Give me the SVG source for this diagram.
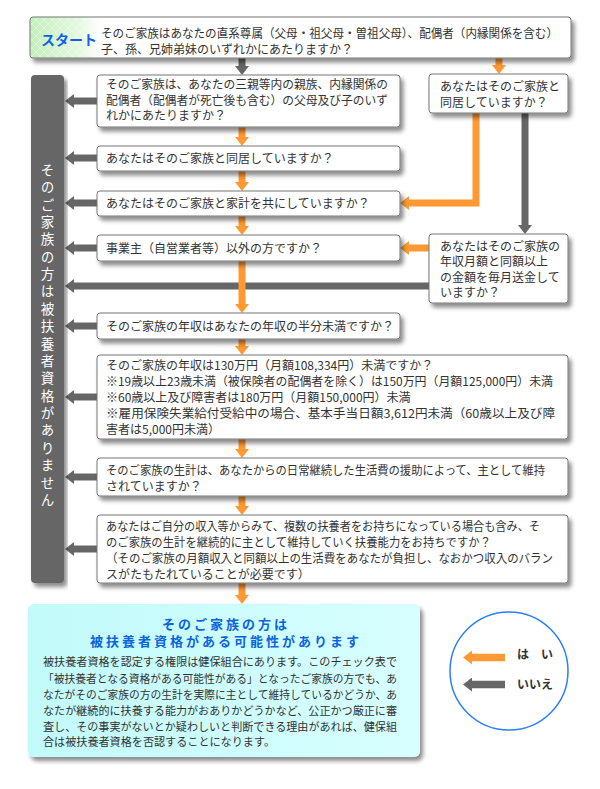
<svg xmlns="http://www.w3.org/2000/svg" width="600" height="789" viewBox="0 0 600 789">
<style>
text{font-family:"Noto Sans CJK JP","Noto Sans",sans-serif;fill:#333;font-size:12px}
.box{fill:#fff;stroke:#777;stroke-width:1}
.o{fill:none;stroke:#ff9933;stroke-width:7;marker-end:url(#ho)}
.g{fill:none;stroke:#666;stroke-width:7;marker-end:url(#hg)}
.vt{fill:#fff;font-size:13.5px;writing-mode:vertical-rl;letter-spacing:3.87px}
.ttl{fill:#0a64dc;font-weight:bold;font-size:13px;letter-spacing:3px;text-anchor:middle}
.bd{font-size:11.5px}
.lg{font-weight:bold;font-size:12px;fill:#333}
</style>
<defs>
<filter id="sh" x="-5%" y="-10%" width="115%" height="150%"><feDropShadow dx="3" dy="4" stdDeviation="2" flood-color="#000" flood-opacity="0.45"/></filter>
<marker id="ho" viewBox="0 0 9 14" markerWidth="9" markerHeight="14" refX="0" refY="7" orient="auto" markerUnits="userSpaceOnUse"><path d="M0,0 L9,7 L0,14 Z" fill="#ff9933"/></marker>
<marker id="hg" viewBox="0 0 9 14" markerWidth="9" markerHeight="14" refX="0" refY="7" orient="auto" markerUnits="userSpaceOnUse"><path d="M0,0 L9,7 L0,14 Z" fill="#666"/></marker>
<linearGradient id="gs" x1="0" y1="0" x2="1" y2="0"><stop offset="0" stop-color="#c4efbc"/><stop offset="0.09" stop-color="#e4f8e0"/><stop offset="0.13" stop-color="#fff"/><stop offset="1" stop-color="#fff"/></linearGradient>
<linearGradient id="gc" x1="0" y1="0" x2="1" y2="0"><stop offset="0" stop-color="#c2fafa"/><stop offset="1" stop-color="#d8ffff"/></linearGradient>
<pattern id="hatch" width="8" height="8" patternUnits="userSpaceOnUse"><path d="M0,0 L8,8 M8,0 L0,8" stroke="#fff" stroke-width="0.8" opacity="0.7"/></pattern>
</defs>

<g id="connectors">
<path class="g" d="M242,58 V66"/>
<path class="g" d="M97,101 H74"/>
<path class="g" d="M97,158 H74"/>
<path class="g" d="M97,203 H74"/>
<path class="g" d="M97,248 H74"/>
<path class="g" d="M429,286 H74"/>
<path class="g" d="M97,326 H74"/>
<path class="g" d="M97,397 H74"/>
<path class="g" d="M97,477 H74"/>
<path class="g" d="M97,549 H74"/>
<path class="g" d="M525,113 V225"/>
<path class="o" d="M242,127 V137"/>
<path class="o" d="M242,171 V182"/>
<path class="o" d="M242,216 V226"/>
<path class="o" d="M242,261 V304"/>
<path class="o" d="M242,339 V346"/>
<path class="o" d="M242,439 V449"/>
<path class="o" d="M242,496 V506"/>
<path class="o" d="M242,583 V595"/>
<path class="o" d="M499,58 V65"/>
<path class="o" d="M476,113 V203 H409"/>
<path class="o" d="M429,248 H409"/>
</g>

<g id="start">
<rect x="30" y="17" width="541" height="41" rx="3" fill="url(#gs)" stroke="#777" filter="url(#sh)"/>
<rect x="31" y="18" width="55" height="39" fill="url(#hatch)" opacity="0.6"/>
<text x="41" y="45" style="fill:#1060e8;font-weight:bold;font-size:14px">スタート</text>
<text x="101" y="38" textLength="457" lengthAdjust="spacingAndGlyphs">そのご家族はあなたの直系尊属（父母・祖父母・曽祖父母）、配偶者（内縁関係を含む）</text>
<text x="101" y="53.5">子、孫、兄姉弟妹のいずれかにあたりますか？</text>
</g>

<g id="no-bar">
<rect x="31" y="75" width="33" height="508" rx="4" fill="#666" filter="url(#sh)"/>
<text class="vt" x="47.5" y="163">そのご家族の方は被扶養者資格がありません</text>
</g>

<g id="q1">
<rect class="box" x="97" y="75" width="303" height="52" rx="3" filter="url(#sh)"/>
<text x="106" y="89" textLength="282" lengthAdjust="spacingAndGlyphs">そのご家族は、あなたの三親等内の親族、内縁関係の</text>
<text x="106" y="104.5" textLength="282" lengthAdjust="spacingAndGlyphs">配偶者（配偶者が死亡後も含む）の父母及び子のいず</text>
<text x="106" y="120">れかにあたりますか？</text>
</g>

<g id="r1">
<rect class="box" x="429" y="74" width="139" height="39" rx="3" filter="url(#sh)"/>
<text x="440" y="91">あなたはそのご家族と</text>
<text x="440" y="107">同居していますか？</text>
</g>

<g id="q2">
<rect class="box" x="97" y="146" width="303" height="25" rx="3" filter="url(#sh)"/>
<text x="106" y="162.5">あなたはそのご家族と同居していますか？</text>
</g>

<g id="q3">
<rect class="box" x="97" y="191" width="303" height="25" rx="3" filter="url(#sh)"/>
<text x="106" y="207.5">あなたはそのご家族と家計を共にしていますか？</text>
</g>

<g id="q4">
<rect class="box" x="97" y="235" width="303" height="26" rx="3" filter="url(#sh)"/>
<text x="106" y="252.5">事業主（自営業者等）以外の方ですか？</text>
</g>

<g id="r2">
<rect class="box" x="429" y="234" width="139" height="69" rx="3" filter="url(#sh)"/>
<text x="440" y="250.5">あなたはそのご家族の</text>
<text x="440" y="266">年収月額と同額以上</text>
<text x="440" y="281.5">の金額を毎月送金して</text>
<text x="440" y="297">いますか？</text>
</g>

<g id="q5">
<rect class="box" x="97" y="313" width="303" height="26" rx="3" filter="url(#sh)"/>
<text x="106" y="330.5">そのご家族の年収はあなたの年収の半分未満ですか？</text>
</g>

<g id="q6">
<rect class="box" x="97" y="355" width="471" height="84" rx="3" filter="url(#sh)"/>
<text x="106" y="370">そのご家族の年収は130万円（月額108,334円）未満ですか？</text>
<text x="106" y="386" textLength="447" lengthAdjust="spacingAndGlyphs">※19歳以上23歳未満（被保険者の配偶者を除く）は150万円（月額125,000円）未満</text>
<text x="106" y="402">※60歳以上及び障害者は180万円（月額150,000円）未満</text>
<text x="106" y="418" textLength="449" lengthAdjust="spacingAndGlyphs">※雇用保険失業給付受給中の場合、基本手当日額3,612円未満（60歳以上及び障</text>
<text x="106" y="433.5">害者は5,000円未満）</text>
</g>

<g id="q7">
<rect class="box" x="97" y="458" width="471" height="38" rx="3" filter="url(#sh)"/>
<text x="106" y="474.5" textLength="439" lengthAdjust="spacingAndGlyphs">そのご家族の生計は、あなたからの日常継続した生活費の援助によって、主として維持</text>
<text x="106" y="491">されていますか？</text>
</g>

<g id="q8">
<rect class="box" x="97" y="515" width="471" height="68" rx="3" filter="url(#sh)"/>
<text x="106" y="531" textLength="434" lengthAdjust="spacingAndGlyphs">あなたはご自分の収入等からみて、複数の扶養者をお持ちになっている場合も含み、そ</text>
<text x="106" y="547" textLength="385" lengthAdjust="spacingAndGlyphs">のご家族の生計を継続的に主として維持していく扶養能力をお持ちですか？</text>
<text x="106" y="563" textLength="447" lengthAdjust="spacingAndGlyphs">（そのご家族の月額収入と同額以上の生活費をあなたが負担し、なおかつ収入のバラン</text>
<text x="106" y="578.5">スがたもたれていることが必要です）</text>
</g>

<g id="result">
<rect x="28" y="604" width="392" height="153" rx="6" fill="url(#gc)" filter="url(#sh)"/>
<text class="ttl" x="226" y="628.5">そのご家族の方は</text>
<text class="ttl" x="226" y="646">被扶養者資格がある可能性があります</text>
<text class="bd" x="43" y="666" textLength="354" lengthAdjust="spacingAndGlyphs">被扶養者資格を認定する権限は健保組合にあります。このチェック表で</text>
<text class="bd" x="43" y="682.5" textLength="354" lengthAdjust="spacingAndGlyphs">「被扶養者となる資格がある可能性がある」となったご家族の方でも、あ</text>
<text class="bd" x="43" y="698.5" textLength="354" lengthAdjust="spacingAndGlyphs">なたがそのご家族の方の生計を実際に主として維持しているかどうか、あ</text>
<text class="bd" x="43" y="714.5" textLength="354" lengthAdjust="spacingAndGlyphs">なたが継続的に扶養する能力がおありかどうかなど、公正かつ厳正に審</text>
<text class="bd" x="43" y="730.5" textLength="354" lengthAdjust="spacingAndGlyphs">査し、その事実がないとか疑わしいと判断できる理由があれば、健保組</text>
<text class="bd" x="43" y="746" textLength="232" lengthAdjust="spacingAndGlyphs">合は被扶養者資格を否認することになります。</text>
</g>

<g id="legend">
<circle cx="509" cy="671" r="59" fill="#fff" stroke="#2a7fff" stroke-width="1.5"/>
<path d="M505,657.5 H472" fill="none" stroke="#ff9933" stroke-width="7.5" marker-end="url(#ho)"/>
<path d="M505,684.5 H472" fill="none" stroke="#666" stroke-width="7.5" marker-end="url(#hg)"/>
<text class="lg" x="517" y="659">は　い</text>
<text class="lg" x="517" y="689">いいえ</text>
</g>
</svg>
